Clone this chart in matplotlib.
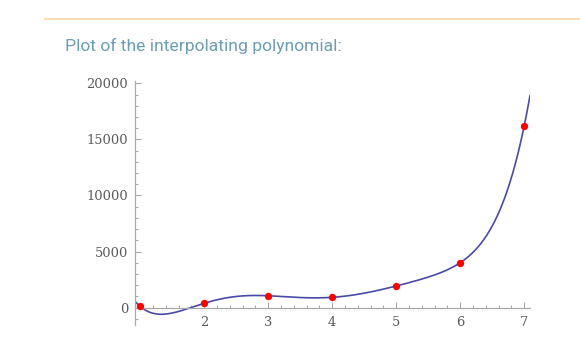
import numpy as np
import matplotlib
matplotlib.use("Agg")
import matplotlib.pyplot as plt
from matplotlib.ticker import MultipleLocator, FixedLocator

# data points
x_pts = [1, 2, 3, 4, 5, 6, 7]
y_pts = [100, 375, 1050, 910, 1920, 4000, 16230]
x_ticks = [2, 3, 4, 5, 6, 7]
y_ticks = [0, 5000, 10000, 15000, 20000]
title = "Plot of the interpolating polynomial:"

W, H = 580, 357
fig = plt.figure(figsize=(W / 100, H / 100), dpi=100)

# decorative rule + title
fig.add_artist(plt.Line2D([45 / W, 1.0], [1 - 19.3 / H, 1 - 19.3 / H],
                          color="#f8d9a0", lw=1.2))
fig.text(65 / W, 1 - 46 / H, title, fontsize=12.6, color="#6b9db3",
         family=["Roboto", "DejaVu Sans"], va="center", ha="left")

xl, xr = 0.92, 7.09
yb, yt = -1560, 20220
left_px, right_px = 135, 530
top_px, bot_px = 81, 325
ax = fig.add_axes([left_px / W, 1 - bot_px / H,
                   (right_px - left_px) / W, (bot_px - top_px) / H])

coef = np.polyfit(x_pts, y_pts, len(x_pts) - 1)
xs = np.linspace(xl, xr, 600)
ax.plot(xs, np.polyval(coef, xs), color="#4a4aa8", lw=1.2, zorder=2)
ax.scatter(x_pts, y_pts, s=28, color="#ff0000", zorder=3, linewidths=0)

ax.set_xlim(xl, xr)
ax.set_ylim(yb, yt)
for s in ["top", "right"]:
    ax.spines[s].set_visible(False)
ax.spines["bottom"].set_position(("data", 0))
for s in ["left", "bottom"]:
    ax.spines[s].set_color("#aaaaaa")
    ax.spines[s].set_linewidth(0.9)

ax.xaxis.set_major_locator(FixedLocator(x_ticks))
ax.xaxis.set_minor_locator(MultipleLocator(0.2))
ax.yaxis.set_major_locator(FixedLocator(y_ticks))
ax.yaxis.set_minor_locator(MultipleLocator(1000))
ax.tick_params(which="both", direction="in", color="#aaaaaa", width=0.8,
               labelcolor="#5a5a5a", labelsize=9.4)
ax.tick_params(which="major", length=4, pad=5)
ax.tick_params(axis="x", which="major", pad=6)
ax.tick_params(which="minor", length=2.5)
ax.set_yticklabels([str(v) for v in y_ticks], family="DejaVu Serif")
ax.set_xticklabels([str(v) for v in x_ticks], family="DejaVu Serif")
ax.patch.set_visible(False)

fig.savefig("out.png", dpi=100)
